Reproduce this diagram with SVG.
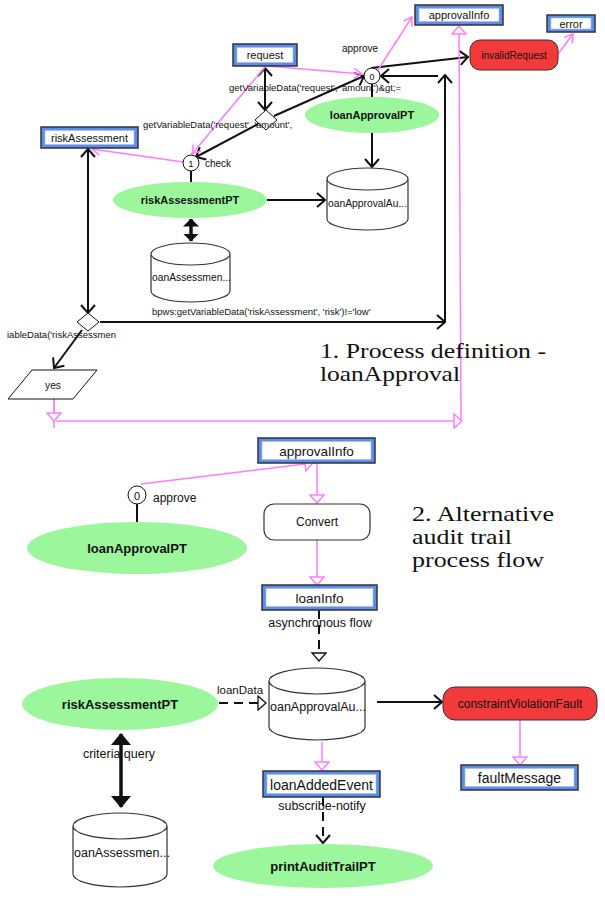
<svg xmlns="http://www.w3.org/2000/svg" width="605" height="898" viewBox="0 0 605 898">
<style>
text{font-family:"Liberation Sans",Arial,sans-serif;fill:#111}
.bx{fill:#5b8def;stroke:#333;stroke-width:1.5}
.bxi{fill:#fff;stroke:#a8c0f0;stroke-width:.6}
.el{fill:#9cf79c}
.red{fill:#f23a3a;stroke:#333;stroke-width:1}
.cyl{fill:#fff;stroke:#333;stroke-width:1.2}
.ln{stroke:#111;stroke-width:2;fill:none}
.bold{stroke:#111;stroke-width:3.5;fill:none}
.pk{stroke:#ff7cff;stroke-width:1.5;fill:none}
.dash{stroke:#111;stroke-width:2;fill:none;stroke-dasharray:9 6}
.sm{font-size:9.5px}
.lb{font-size:10px}
.bt{font-weight:bold}
.ser{font-family:"Liberation Serif","Times New Roman",serif;font-size:21px}
</style>
<defs>
<marker id="chev" viewBox="0 0 10 16" refX="9" refY="8" markerWidth="10" markerHeight="16" markerUnits="userSpaceOnUse" orient="auto-start-reverse">
<path d="M1,1 L9,8 L1,15" fill="none" stroke="#111" stroke-width="2"/>
</marker>
<marker id="pv" viewBox="0 0 10 12" refX="9" refY="6" markerWidth="10" markerHeight="12" markerUnits="userSpaceOnUse" orient="auto">
<path d="M1,1 L9,6 L1,11" fill="none" stroke="#ff7cff" stroke-width="1.5"/>
</marker>
<marker id="pt" viewBox="0 0 10 16" refX="9" refY="8" markerWidth="10" markerHeight="16" markerUnits="userSpaceOnUse" orient="auto">
<path d="M1,1 L9,8 L1,15 Z" fill="#fff" stroke="#ff7cff" stroke-width="1.5"/>
</marker>
<marker id="bt" viewBox="0 0 10 16" refX="9" refY="8" markerWidth="10" markerHeight="16" markerUnits="userSpaceOnUse" orient="auto">
<path d="M1,1 L9,8 L1,15 Z" fill="#fff" stroke="#111" stroke-width="1.3"/>
</marker>
<marker id="ft" viewBox="0 0 12 20" refX="11" refY="10" markerWidth="12" markerHeight="20" markerUnits="userSpaceOnUse" orient="auto-start-reverse">
<path d="M0,0 L12,10 L0,20 Z" fill="#111"/>
</marker>
<marker id="fts" viewBox="0 0 8 16" refX="7.5" refY="8" markerWidth="8" markerHeight="16" markerUnits="userSpaceOnUse" orient="auto-start-reverse">
<path d="M0,0 L8,8 L0,16 Z" fill="#111"/>
</marker>
</defs>

<g id="connectors">
<!-- top black -->
<line class="ln" x1="265" y1="68" x2="265" y2="110" marker-start="url(#chev)" marker-end="url(#chev)"/>
<line class="ln" x1="274" y1="116" x2="364" y2="76" marker-end="url(#chev)"/>
<line class="ln" x1="258" y1="124" x2="196" y2="157" marker-end="url(#chev)"/>
<line class="ln" x1="191" y1="171" x2="191" y2="183"/>
<line class="ln" x1="372" y1="84" x2="372" y2="97"/>
<line class="ln" x1="372" y1="133" x2="372" y2="167" marker-end="url(#chev)"/>
<line class="ln" x1="267" y1="200" x2="325" y2="200" marker-end="url(#chev)"/>
<line class="bold" x1="191" y1="219" x2="191" y2="241" marker-start="url(#fts)" marker-end="url(#fts)"/>
<line class="ln" x1="88" y1="149" x2="88" y2="313" marker-start="url(#chev)" marker-end="url(#chev)"/>
<line class="ln" x1="82" y1="330" x2="54" y2="368" marker-end="url(#chev)"/>
<line class="ln" x1="100" y1="322" x2="445" y2="322" marker-end="url(#chev)"/>
<line class="ln" x1="445" y1="322" x2="445" y2="75" marker-end="url(#chev)"/>
<line class="ln" x1="438" y1="76" x2="381" y2="76" marker-end="url(#chev)"/>
<line class="ln" x1="371" y1="68" x2="468" y2="57" marker-end="url(#chev)"/>
<!-- top pink -->
<line class="pk" x1="267" y1="66" x2="362" y2="74" marker-end="url(#pv)"/>
<line class="pk" x1="265" y1="67" x2="192" y2="154" marker-end="url(#pv)"/>
<line class="pk" x1="183" y1="162" x2="92" y2="149" marker-end="url(#pv)"/>
<line class="pk" x1="378" y1="70" x2="412" y2="17" marker-end="url(#pv)"/>
<line class="pk" x1="558" y1="54" x2="573" y2="34" marker-end="url(#pv)"/>
<line class="pk" x1="54" y1="399" x2="54" y2="428"/>
<line class="pk" x1="54" y1="399" x2="54" y2="421" marker-end="url(#pt)"/>
<line class="pk" x1="56" y1="421" x2="462" y2="421" marker-end="url(#pt)"/>
<line class="pk" x1="461" y1="421" x2="459" y2="26" marker-end="url(#pt)"/>
<!-- bottom pink -->
<line class="pk" x1="141" y1="484" x2="313" y2="463" marker-end="url(#pt)"/>
<line class="pk" x1="317" y1="463" x2="317" y2="503" marker-end="url(#pt)"/>
<line class="pk" x1="317" y1="540" x2="317" y2="585" marker-end="url(#pt)"/>
<line class="pk" x1="322" y1="742" x2="322" y2="770" marker-end="url(#pt)"/>
<line class="pk" x1="520" y1="720" x2="520" y2="765" marker-end="url(#pt)"/>
<!-- bottom black -->
<line class="ln" x1="137" y1="504" x2="137" y2="522"/>
<line class="dash" x1="319" y1="610" x2="319" y2="661" marker-end="url(#bt)"/>
<line class="dash" x1="219" y1="703" x2="266" y2="703" marker-end="url(#bt)"/>
<line class="ln" x1="377" y1="702" x2="442" y2="702" marker-end="url(#chev)"/>
<line class="dash" x1="323" y1="797" x2="323" y2="843" marker-end="url(#chev)"/>
<line class="bold" x1="121" y1="734" x2="121" y2="807" marker-start="url(#ft)" marker-end="url(#ft)"/>
</g>

<g id="request"><rect class="bx" x="233" y="44" width="64" height="22"/><rect class="bxi" x="237" y="47.5" width="56" height="15"/><text x="265" y="59" font-size="11" text-anchor="middle">request</text></g>
<g id="riskAssessment"><rect class="bx" x="41" y="127" width="97" height="21"/><rect class="bxi" x="45" y="130.5" width="89" height="14"/><text x="89.5" y="141.5" font-size="11" text-anchor="middle">riskAssessment</text></g>
<g id="approvalInfo1"><rect class="bx" x="415" y="5" width="88" height="20"/><rect class="bxi" x="419" y="8.5" width="80" height="13"/><text x="459" y="19" font-size="11" text-anchor="middle">approvalInfo</text></g>
<g id="error"><rect class="bx" x="547" y="15" width="48" height="17"/><rect class="bxi" x="551" y="18" width="40" height="11"/><text x="571" y="28" font-size="11" text-anchor="middle">error</text></g>
<g id="invalidRequest"><rect class="red" x="470" y="40" width="88" height="30" rx="10"/><text x="514" y="58.5" font-size="10" text-anchor="middle">invalidRequest</text></g>

<g id="gateway-approve"><circle cx="372" cy="76" r="8" fill="#fff" stroke="#111"/><text x="372" y="79.5" font-size="9" text-anchor="middle">0</text></g>
<g id="gateway-check"><circle cx="191" cy="163" r="8" fill="#fff" stroke="#111"/><text x="191" y="166.5" font-size="9.5" text-anchor="middle">1</text></g>
<g id="diamond1"><polygon points="266,110 277,120 266,130 255,120" fill="#fff" stroke="#111"/></g>
<g id="diamond2"><polygon points="88,313 99,322 88,331 77,322" fill="#fff" stroke="#111"/></g>

<g id="loanApprovalPT1"><ellipse class="el" cx="372" cy="115" rx="67" ry="18"/><text x="372" y="119" font-size="11" class="bt" text-anchor="middle">loanApprovalPT</text></g>
<g id="riskAssessmentPT1"><ellipse class="el" cx="190" cy="200" rx="77" ry="18"/><text x="190" y="204" font-size="11" class="bt" text-anchor="middle">riskAssessmentPT</text></g>

<g id="loanApprovalAu1"><path class="cyl" d="M327,179 A40.5,11 0 0 1 408,179 V219 A40.5,11 0 0 1 327,219 Z M327,179 A40.5,11 0 0 0 408,179"/><text x="328" y="207" font-size="10.3">oanApprovalAu...</text></g>
<g id="loanAssessmen1"><path class="cyl" d="M151,254 A39.5,11 0 0 1 230,254 V291 A39.5,11 0 0 1 151,291 Z M151,254 A39.5,11 0 0 0 230,254"/><text x="152" y="281" font-size="10.3">oanAssessmen...</text></g>

<g id="yes"><polygon points="32,370 97,370 73,399 8,399" fill="#fff" stroke="#111"/><text x="53" y="389" font-size="10.3" text-anchor="middle">yes</text></g>

<g id="labels-top">
<text x="342" y="52" class="lb">approve</text>
<text x="205" y="167" class="lb">check</text>
<text x="229" y="91" class="sm">getVariableData('request', 'amount')&amp;gt;=</text>
<text x="143" y="128" class="sm">getVariableData('request', 'amount',</text>
<text x="152" y="315" class="sm">bpws:getVariableData('riskAssessment', 'risk')!='low'</text>
<text x="7" y="338" class="sm">iableData('riskAssessmen</text>
<text x="320" y="358" class="ser" textLength="226" lengthAdjust="spacingAndGlyphs">1. Process definition -</text>
<text x="320" y="381" class="ser" textLength="140" lengthAdjust="spacingAndGlyphs">loanApproval</text>
</g>

<g id="approvalInfo2"><rect class="bx" x="258" y="438" width="117" height="25"/><rect class="bxi" x="262" y="441.5" width="109" height="18"/><text x="316.5" y="455.5" font-size="13.5" text-anchor="middle">approvalInfo</text></g>
<g id="gateway-approve2"><circle cx="137" cy="495" r="9" fill="#fff" stroke="#111"/><text x="137" y="499.5" font-size="11" text-anchor="middle">0</text><text x="153" y="502" font-size="12">approve</text></g>
<g id="loanApprovalPT2"><ellipse class="el" cx="137" cy="548" rx="110" ry="26"/><text x="137" y="553" font-size="13" class="bt" text-anchor="middle">loanApprovalPT</text></g>
<g id="Convert"><rect x="264" y="504" width="106" height="36" rx="10" fill="#fff" stroke="#333" stroke-width="1.2"/><text x="317" y="526" font-size="12" text-anchor="middle">Convert</text></g>
<g id="loanInfo"><rect class="bx" x="262" y="585" width="115" height="25"/><rect class="bxi" x="266" y="588.5" width="107" height="18"/><text x="319.5" y="602.5" font-size="13.5" text-anchor="middle">loanInfo</text></g>
<g id="loanApprovalAu2"><path class="cyl" d="M269,681 A48,13 0 0 1 365,681 V727 A48,13 0 0 1 269,727 Z M269,681 A48,13 0 0 0 365,681"/><text x="270" y="711" font-size="12.5">oanApprovalAu...</text></g>
<g id="riskAssessmentPT2"><ellipse class="el" cx="120" cy="704" rx="98" ry="26"/><text x="120" y="709" font-size="13" class="bt" text-anchor="middle">riskAssessmentPT</text></g>
<g id="constraintViolationFault"><rect class="red" x="443" y="687" width="154" height="33" rx="12"/><text x="520" y="708" font-size="12" text-anchor="middle">constraintViolationFault</text></g>
<g id="faultMessage"><rect class="bx" x="461" y="765" width="117" height="25"/><rect class="bxi" x="465" y="768.5" width="109" height="18"/><text x="519.5" y="783" font-size="14" text-anchor="middle">faultMessage</text></g>
<g id="loanAddedEvent"><rect class="bx" x="263" y="771" width="117" height="26"/><rect class="bxi" x="267" y="774.5" width="109" height="19"/><text x="321.5" y="789.5" font-size="14" text-anchor="middle">loanAddedEvent</text></g>
<g id="loanAssessmen2"><path class="cyl" d="M73,826 A47,13 0 0 1 167,826 V874 A47,13 0 0 1 73,874 Z M73,826 A47,13 0 0 0 167,826"/><text x="74" y="857" font-size="12.5">oanAssessmen...</text></g>
<g id="printAuditTrailPT"><ellipse class="el" cx="323" cy="866" rx="110" ry="22"/><text x="323" y="871" font-size="13" class="bt" text-anchor="middle">printAuditTrailPT</text></g>

<g id="labels-bottom">
<text x="320" y="627" font-size="12.5" text-anchor="middle">asynchronous flow</text>
<text x="217" y="694" font-size="11.5">loanData</text>
<text x="119" y="758" font-size="12.5" text-anchor="middle">criteria query</text>
<text x="322" y="810" font-size="12.5" text-anchor="middle">subscribe-notify</text>
<text x="412" y="521" class="ser" textLength="142" lengthAdjust="spacingAndGlyphs">2. Alternative</text>
<text x="412" y="544" class="ser" textLength="100" lengthAdjust="spacingAndGlyphs">audit trail</text>
<text x="412" y="567" class="ser" textLength="132" lengthAdjust="spacingAndGlyphs">process flow</text>
</g>
</svg>
